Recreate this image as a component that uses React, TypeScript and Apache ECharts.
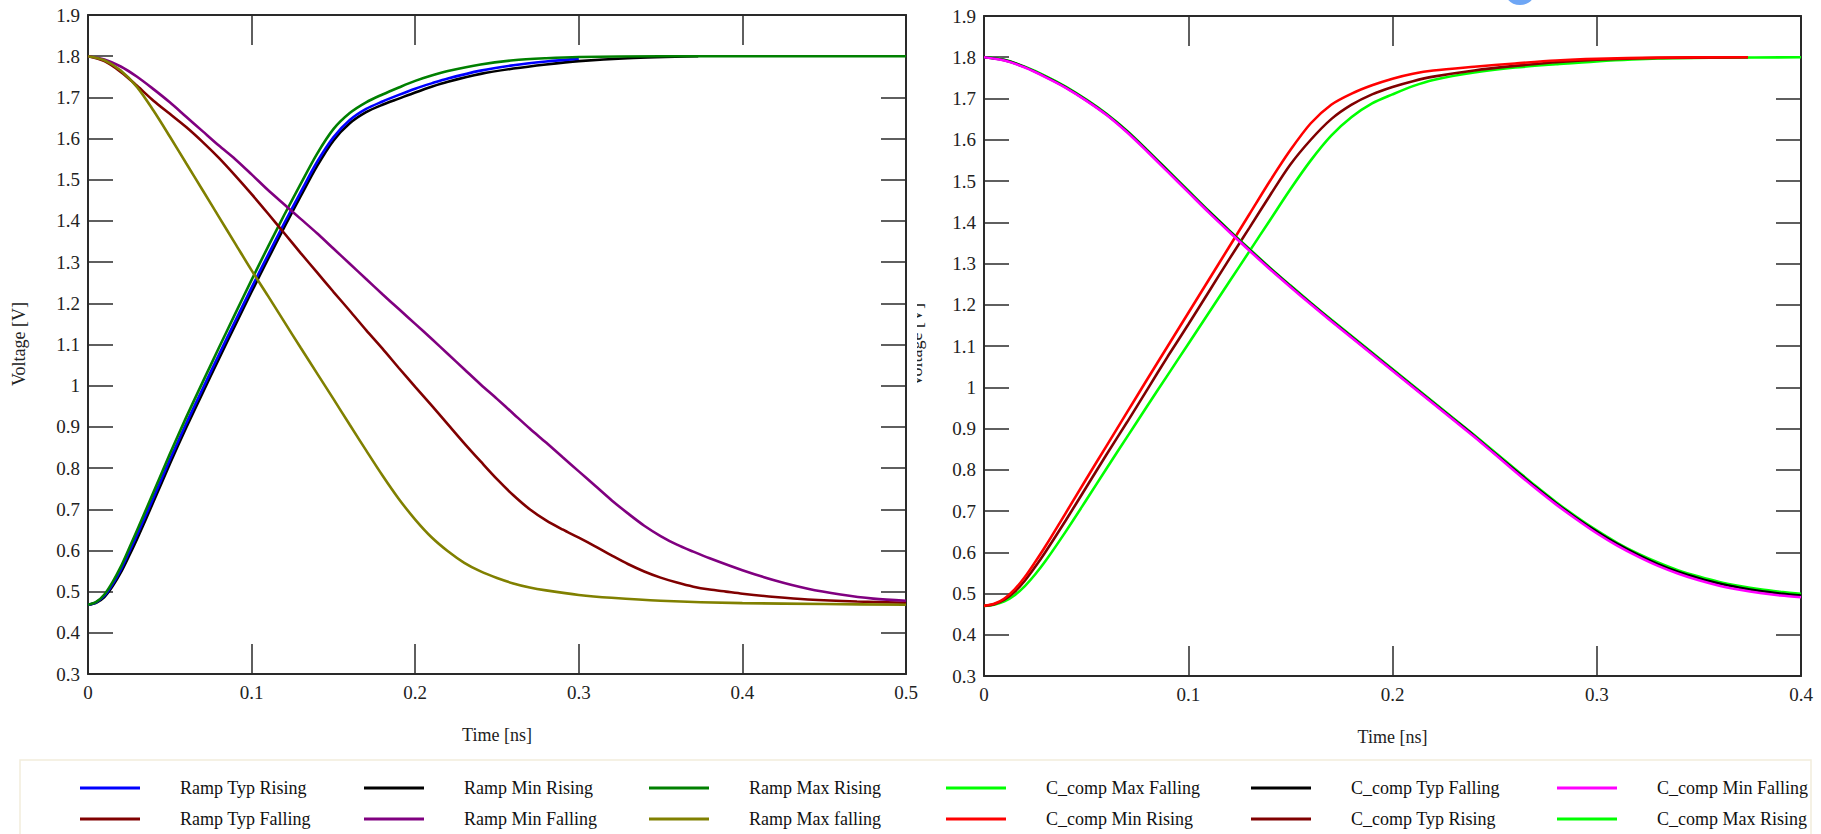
import { useEffect, useRef } from "react";
import * as echarts from "echarts";

const FONT = '"Liberation Serif", "Times New Roman", serif';

// ---------- Left chart: Ramp waveforms (t [ns], V) ----------
const rampTypRising = [
  [0, 0.468], [0.005, 0.474], [0.01, 0.49], [0.015, 0.518], [0.02, 0.553], [0.025, 0.595], [0.03, 0.638],
  [0.04, 0.728], [0.05, 0.82], [0.06, 0.908], [0.07, 0.992], [0.08, 1.075], [0.09, 1.157], [0.1, 1.238],
  [0.11, 1.317], [0.12, 1.395], [0.13, 1.47], [0.14, 1.543], [0.15, 1.603], [0.16, 1.645], [0.17, 1.672],
  [0.18, 1.69], [0.19, 1.706], [0.2, 1.721], [0.21, 1.734], [0.22, 1.746], [0.24, 1.765], [0.26, 1.778],
  [0.28, 1.787], [0.3, 1.794],
];
const rampMinRising = [
  [0, 0.468], [0.005, 0.473], [0.01, 0.487], [0.015, 0.513], [0.02, 0.546], [0.025, 0.586], [0.03, 0.628],
  [0.04, 0.718], [0.05, 0.81], [0.06, 0.898], [0.07, 0.982], [0.08, 1.065], [0.09, 1.147], [0.1, 1.228],
  [0.11, 1.307], [0.12, 1.385], [0.13, 1.46], [0.14, 1.533], [0.15, 1.595], [0.16, 1.637], [0.17, 1.664],
  [0.18, 1.682], [0.19, 1.697], [0.2, 1.712], [0.21, 1.726], [0.22, 1.738], [0.24, 1.757], [0.26, 1.77],
  [0.28, 1.78], [0.3, 1.788], [0.33, 1.795], [0.373, 1.8],
];
const rampMaxRising = [
  [0, 0.468], [0.005, 0.475], [0.01, 0.493], [0.015, 0.523], [0.02, 0.56], [0.025, 0.604], [0.03, 0.649],
  [0.04, 0.741], [0.05, 0.834], [0.06, 0.923], [0.07, 1.008], [0.08, 1.092], [0.09, 1.175], [0.1, 1.257],
  [0.11, 1.337], [0.12, 1.415], [0.13, 1.49], [0.14, 1.563], [0.15, 1.623], [0.16, 1.662], [0.17, 1.688],
  [0.18, 1.707], [0.19, 1.724], [0.2, 1.74], [0.21, 1.753], [0.22, 1.764], [0.24, 1.78], [0.26, 1.79],
  [0.28, 1.795], [0.3, 1.798], [0.35, 1.8], [0.4, 1.8], [0.5, 1.8],
];
const rampTypFalling = [
  [0, 1.8], [0.01, 1.788], [0.02, 1.762], [0.03, 1.728], [0.04, 1.692], [0.05, 1.66], [0.06, 1.628],
  [0.07, 1.592], [0.08, 1.553], [0.09, 1.51], [0.1, 1.465], [0.11, 1.418], [0.12, 1.37], [0.13, 1.322],
  [0.14, 1.275], [0.15, 1.228], [0.16, 1.182], [0.17, 1.135], [0.18, 1.09], [0.19, 1.043], [0.2, 0.997],
  [0.21, 0.952], [0.22, 0.906], [0.23, 0.86], [0.24, 0.816], [0.25, 0.773], [0.26, 0.734], [0.27, 0.7],
  [0.28, 0.673], [0.29, 0.651], [0.3, 0.631], [0.31, 0.61], [0.32, 0.588], [0.33, 0.567], [0.34, 0.549],
  [0.35, 0.534], [0.36, 0.522], [0.37, 0.512], [0.38, 0.505], [0.39, 0.5], [0.4, 0.495], [0.42, 0.487],
  [0.44, 0.481], [0.47, 0.476], [0.5, 0.473],
];
const rampMinFalling = [
  [0, 1.8], [0.01, 1.792], [0.02, 1.775], [0.03, 1.75], [0.04, 1.72], [0.05, 1.688], [0.06, 1.653],
  [0.07, 1.618], [0.08, 1.583], [0.09, 1.55], [0.1, 1.513], [0.11, 1.475], [0.12, 1.44], [0.13, 1.405],
  [0.14, 1.37], [0.15, 1.333], [0.16, 1.296], [0.17, 1.259], [0.18, 1.222], [0.19, 1.186], [0.2, 1.15],
  [0.21, 1.114], [0.22, 1.077], [0.23, 1.04], [0.24, 1.003], [0.25, 0.968], [0.26, 0.932], [0.27, 0.896],
  [0.28, 0.862], [0.29, 0.827], [0.3, 0.792], [0.31, 0.757], [0.32, 0.722], [0.33, 0.69], [0.34, 0.66],
  [0.35, 0.635], [0.36, 0.614], [0.37, 0.597], [0.38, 0.581], [0.4, 0.552], [0.42, 0.527], [0.44, 0.507],
  [0.46, 0.493], [0.48, 0.483], [0.5, 0.478],
];
const rampMaxFalling = [
  [0, 1.8], [0.01, 1.79], [0.02, 1.765], [0.03, 1.725], [0.04, 1.668], [0.05, 1.605], [0.06, 1.54],
  [0.07, 1.475], [0.08, 1.41], [0.09, 1.345], [0.1, 1.28], [0.11, 1.218], [0.12, 1.155], [0.13, 1.092],
  [0.14, 1.03], [0.15, 0.968], [0.16, 0.905], [0.17, 0.843], [0.18, 0.782], [0.19, 0.725], [0.2, 0.675],
  [0.21, 0.632], [0.22, 0.598], [0.23, 0.57], [0.24, 0.549], [0.25, 0.533], [0.26, 0.52], [0.27, 0.51],
  [0.28, 0.503], [0.3, 0.492], [0.32, 0.485], [0.35, 0.478], [0.4, 0.472], [0.45, 0.47], [0.5, 0.468],
];

// ---------- Right chart: C_comp waveforms ----------
const cMinRising = [
  [0, 0.47], [0.005, 0.475], [0.01, 0.488], [0.015, 0.51], [0.02, 0.54], [0.025, 0.576], [0.03, 0.614],
  [0.04, 0.695], [0.05, 0.777], [0.06, 0.858], [0.07, 0.939], [0.08, 1.02], [0.09, 1.1], [0.1, 1.18],
  [0.11, 1.26], [0.12, 1.34], [0.13, 1.42], [0.14, 1.5], [0.15, 1.575], [0.16, 1.64], [0.17, 1.685],
  [0.18, 1.712], [0.19, 1.732], [0.2, 1.748], [0.21, 1.76], [0.22, 1.768], [0.24, 1.777], [0.26, 1.785],
  [0.28, 1.792], [0.3, 1.796], [0.33, 1.799], [0.374, 1.8],
];
const cTypRising = [
  [0, 0.47], [0.005, 0.474], [0.01, 0.485], [0.015, 0.504], [0.02, 0.531], [0.025, 0.564], [0.03, 0.6],
  [0.04, 0.677], [0.05, 0.757], [0.06, 0.837], [0.07, 0.915], [0.08, 0.995], [0.09, 1.075], [0.1, 1.152],
  [0.11, 1.231], [0.12, 1.31], [0.13, 1.387], [0.14, 1.465], [0.15, 1.54], [0.16, 1.6], [0.17, 1.65],
  [0.18, 1.685], [0.19, 1.71], [0.2, 1.728], [0.21, 1.742], [0.22, 1.753], [0.24, 1.768], [0.26, 1.779],
  [0.28, 1.788], [0.3, 1.794], [0.33, 1.798], [0.374, 1.8],
];
const cMaxRising = [
  [0, 0.47], [0.005, 0.473], [0.01, 0.481], [0.015, 0.496], [0.02, 0.518], [0.025, 0.546], [0.03, 0.578],
  [0.04, 0.65], [0.05, 0.726], [0.06, 0.803], [0.07, 0.879], [0.08, 0.955], [0.09, 1.03], [0.1, 1.105],
  [0.11, 1.18], [0.12, 1.255], [0.13, 1.33], [0.14, 1.405], [0.15, 1.48], [0.16, 1.55], [0.17, 1.61],
  [0.18, 1.655], [0.19, 1.688], [0.2, 1.71], [0.21, 1.73], [0.22, 1.745], [0.24, 1.763], [0.26, 1.775],
  [0.28, 1.783], [0.3, 1.79], [0.33, 1.797], [0.36, 1.799], [0.4, 1.8],
];
const cMinFalling = [
  [0, 1.8], [0.01, 1.792], [0.02, 1.775], [0.03, 1.752], [0.04, 1.726], [0.05, 1.695], [0.06, 1.66],
  [0.07, 1.618], [0.08, 1.571], [0.09, 1.522], [0.1, 1.473], [0.11, 1.424], [0.12, 1.377], [0.13, 1.331],
  [0.14, 1.286], [0.15, 1.243], [0.16, 1.201], [0.17, 1.16], [0.18, 1.12], [0.19, 1.08], [0.2, 1.04],
  [0.21, 1.0], [0.22, 0.96], [0.23, 0.92], [0.24, 0.88], [0.25, 0.838], [0.26, 0.796], [0.27, 0.755],
  [0.28, 0.716], [0.29, 0.68], [0.3, 0.646], [0.31, 0.616], [0.32, 0.59], [0.33, 0.567], [0.34, 0.548],
  [0.35, 0.532], [0.36, 0.519], [0.37, 0.509], [0.38, 0.501], [0.39, 0.495], [0.4, 0.491],
];
const cTypFalling = [
  [0, 1.8], [0.01, 1.793], [0.02, 1.776], [0.03, 1.753], [0.04, 1.727], [0.05, 1.696], [0.06, 1.661],
  [0.07, 1.62], [0.08, 1.573], [0.09, 1.524], [0.1, 1.475], [0.11, 1.426], [0.12, 1.379], [0.13, 1.333],
  [0.14, 1.288], [0.15, 1.245], [0.16, 1.203], [0.17, 1.162], [0.18, 1.122], [0.19, 1.082], [0.2, 1.042],
  [0.21, 1.002], [0.22, 0.962], [0.23, 0.922], [0.24, 0.882], [0.25, 0.84], [0.26, 0.799], [0.27, 0.758],
  [0.28, 0.719], [0.29, 0.683], [0.3, 0.65], [0.31, 0.62], [0.32, 0.594], [0.33, 0.571], [0.34, 0.552],
  [0.35, 0.537], [0.36, 0.524], [0.37, 0.514], [0.38, 0.506], [0.39, 0.5], [0.4, 0.495],
];
const cMaxFalling = [
  [0, 1.8], [0.01, 1.794], [0.02, 1.777], [0.03, 1.755], [0.04, 1.729], [0.05, 1.698], [0.06, 1.663],
  [0.07, 1.622], [0.08, 1.575], [0.09, 1.526], [0.1, 1.477], [0.11, 1.428], [0.12, 1.381], [0.13, 1.335],
  [0.14, 1.29], [0.15, 1.247], [0.16, 1.205], [0.17, 1.164], [0.18, 1.124], [0.19, 1.084], [0.2, 1.044],
  [0.21, 1.004], [0.22, 0.964], [0.23, 0.924], [0.24, 0.884], [0.25, 0.843], [0.26, 0.802], [0.27, 0.761],
  [0.28, 0.722], [0.29, 0.686], [0.3, 0.653], [0.31, 0.623], [0.32, 0.597], [0.33, 0.575], [0.34, 0.556],
  [0.35, 0.541], [0.36, 0.528], [0.37, 0.518], [0.38, 0.51], [0.39, 0.504], [0.4, 0.499],
];

// ---------- Axes ----------
const yMin = 0.3;
const yMax = 1.9;
const yStep = 0.1;
const xStep = 0.1;
const leftXMax = 0.5;
const rightXMax = 0.4;
const xAxisTitle = "Time [ns]";
const yAxisTitle = "Voltage [V]";

const legendLeftCols = [
  ["Ramp Typ Rising", "Ramp Typ Falling"],
  ["Ramp Min Rising", "Ramp Min Falling"],
  ["Ramp Max Rising", "Ramp Max falling"],
];
const legendRightCols = [
  ["C_comp Max Falling", "C_comp Min Rising"],
  ["C_comp Typ Falling", "C_comp Typ Rising"],
  ["C_comp Min Falling", "C_comp Max Rising"],
];

const AXIS_COLOR = "#2a2a2a";
const LABEL_COLOR = "#222";

function xAxis(gridIndex: number, max: number, top: boolean) {
  return {
    type: "value",
    gridIndex,
    min: 0,
    max,
    interval: xStep,
    position: top ? "top" : "bottom",
    axisLine: { show: true, onZero: false, lineStyle: { color: AXIS_COLOR, width: 2 } },
    axisTick: { show: true, inside: true, length: 30, lineStyle: { color: AXIS_COLOR, width: 1.5 } },
    axisLabel: {
      show: !top,
      margin: 9,
      fontFamily: FONT,
      fontSize: 19,
      color: LABEL_COLOR,
      showMinLabel: true,
      showMaxLabel: true,
    },
    splitLine: { show: false },
    name: top ? "" : xAxisTitle,
    nameLocation: "middle",
    nameGap: 52,
    nameTextStyle: { fontFamily: FONT, fontSize: 18, color: LABEL_COLOR },
  };
}

function yAxis(gridIndex: number, right: boolean) {
  return {
    type: "value",
    gridIndex,
    min: yMin,
    max: yMax,
    interval: yStep,
    position: right ? "right" : "left",
    axisLine: { show: true, onZero: false, lineStyle: { color: AXIS_COLOR, width: 2 } },
    axisTick: { show: true, inside: true, length: 25, lineStyle: { color: AXIS_COLOR, width: 1.5 } },
    axisLabel: {
      show: !right,
      margin: 8,
      fontFamily: FONT,
      fontSize: 19,
      color: LABEL_COLOR,
      showMinLabel: true,
      showMaxLabel: true,
    },
    splitLine: { show: false },
  };
}

function line(name: string, data: number[][], color: string, axisIndex: number, z: number) {
  return {
    type: "line",
    name,
    data,
    xAxisIndex: axisIndex,
    yAxisIndex: axisIndex,
    showSymbol: false,
    symbol: "none",
    smooth: 0.3,
    lineStyle: { width: 2.6, color },
    itemStyle: { color },
    z,
    silent: true,
  };
}

function legend(left: number, names: string[]) {
  return {
    orient: "vertical",
    left,
    top: 778,
    padding: 0,
    itemGap: 11,
    itemWidth: 60,
    itemHeight: 3,
    icon: "rect",
    selectedMode: false,
    data: names,
    textStyle: {
      fontFamily: FONT,
      fontSize: 18,
      color: "#111",
      lineHeight: 20,
      padding: [0, 0, 0, 35],
    },
  };
}

const option = {
  animation: false,
  backgroundColor: "#ffffff",
  grid: [
    { left: 88, top: 15, width: 818, height: 659 },
    { left: 984, top: 16, width: 817, height: 660 },
  ],
  xAxis: [
    xAxis(0, leftXMax, false),
    xAxis(1, rightXMax, false),
    xAxis(0, leftXMax, true),
    xAxis(1, rightXMax, true),
  ],
  yAxis: [yAxis(0, false), yAxis(1, false), yAxis(0, true), yAxis(1, true)],
  legend: [
    legend(80, legendLeftCols[0]),
    legend(364, legendLeftCols[1]),
    legend(649, legendLeftCols[2]),
    legend(946, legendRightCols[0]),
    legend(1251, legendRightCols[1]),
    legend(1557, legendRightCols[2]),
  ],
  series: [
    line("Ramp Min Rising", rampMinRising, "#000000", 0, 2),
    line("Ramp Typ Rising", rampTypRising, "#0000ff", 0, 3),
    line("Ramp Max Rising", rampMaxRising, "#008000", 0, 4),
    line("Ramp Typ Falling", rampTypFalling, "#800000", 0, 5),
    line("Ramp Min Falling", rampMinFalling, "#800080", 0, 6),
    line("Ramp Max falling", rampMaxFalling, "#808000", 0, 7),
    line("C_comp Max Rising", cMaxRising, "#00ff00", 1, 2),
    line("C_comp Typ Rising", cTypRising, "#800000", 1, 3),
    line("C_comp Min Rising", cMinRising, "#ff0000", 1, 4),
    line("C_comp Max Falling", cMaxFalling, "#00ff00", 1, 5),
    line("C_comp Typ Falling", cTypFalling, "#000000", 1, 6),
    line("C_comp Min Falling", cMinFalling, "#ff00ff", 1, 7),
  ],
  graphic: [
    {
      type: "text",
      x: 19,
      y: 344,
      rotation: Math.PI / 2,
      style: {
        text: yAxisTitle,
        fontFamily: FONT,
        fontSize: 18,
        fill: LABEL_COLOR,
        align: "center",
        verticalAlign: "middle",
      },
      z: 10,
    },
    {
      type: "text",
      x: 916,
      y: 345,
      rotation: Math.PI / 2,
      style: {
        text: yAxisTitle,
        fontFamily: FONT,
        fontSize: 18,
        fill: LABEL_COLOR,
        align: "center",
        verticalAlign: "middle",
      },
      z: 10,
    },
    {
      type: "rect",
      shape: { x: 908, y: 280, width: 9, height: 140 },
      style: { fill: "#ffffff" },
      z: 11,
    },
    {
      type: "rect",
      shape: { x: 20, y: 760, width: 1791, height: 80 },
      style: { fill: "none", stroke: "#f2eddc", lineWidth: 1.5 },
      z: 1,
    },
    {
      type: "ellipse",
      shape: { cx: 1520, cy: -6, rx: 14, ry: 11 },
      style: { fill: "#6ea6f5" },
      z: 10,
    },
  ],
};

export default function App() {
  const ref = useRef<HTMLDivElement>(null);
  useEffect(() => {
    const chart = echarts.init(ref.current!, null, { renderer: "svg" });
    chart.setOption(option as any);
    return () => chart.dispose();
  }, []);
  return (
    <div
      ref={ref}
      style={{ position: "fixed", left: 0, top: 0, width: 1821, height: 834, background: "#ffffff" }}
    />
  );
}
